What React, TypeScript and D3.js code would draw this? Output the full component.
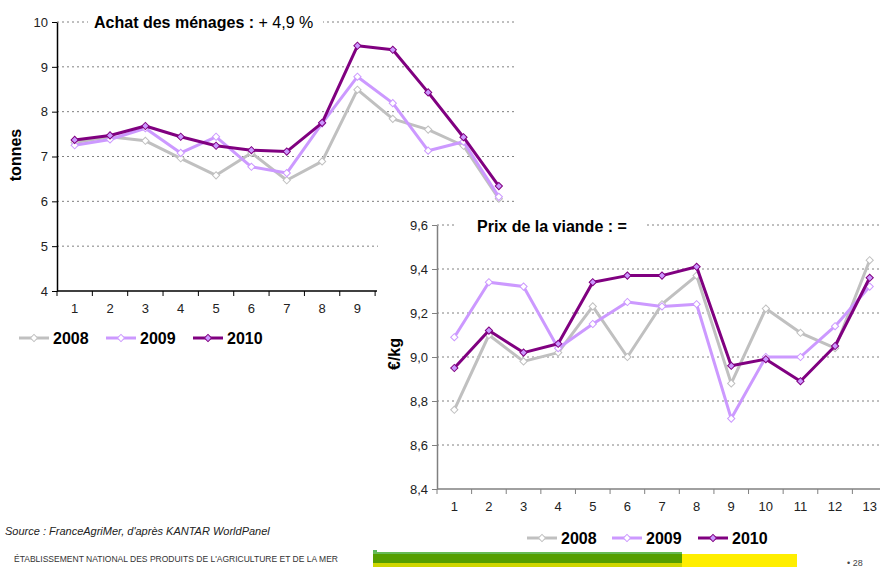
import React, { useEffect, useRef } from 'react';
import * as d3 from 'd3';

// periods (4-week periods of the year)
const periods = ['1', '2', '3', '4', '5', '6', '7', '8', '9', '10', '11', '12', '13'];
const years = ['2008', '2009', '2010'];

// Achat des ménages (tonnes)
const tonnes2008 = [7.31, 7.44, 7.35, 6.96, 6.58, 7.08, 6.47, 6.89, 8.49, 7.84, 7.6, 7.24, 6.06];
const tonnes2009 = [7.25, 7.38, 7.63, 7.08, 7.44, 6.77, 6.63, 7.74, 8.78, 8.19, 7.13, 7.33, 6.1];
const tonnes2010 = [7.37, 7.47, 7.68, 7.44, 7.24, 7.14, 7.11, 7.75, 9.47, 9.38, 8.43, 7.43, 6.34];

// Prix de la viande (€/kg)
const prix2008 = [8.76, 9.1, 8.98, 9.02, 9.23, 9.0, 9.24, 9.37, 8.88, 9.22, 9.11, 9.04, 9.44];
const prix2009 = [9.09, 9.34, 9.32, 9.04, 9.15, 9.25, 9.23, 9.24, 8.72, 9.0, 9.0, 9.14, 9.32];
const prix2010 = [8.95, 9.12, 9.02, 9.06, 9.34, 9.37, 9.37, 9.41, 8.96, 8.99, 8.89, 9.05, 9.36];

const tonnesTicks = [4, 5, 6, 7, 8, 9, 10];
const prixTicks = [8.4, 8.6, 8.8, 9.0, 9.2, 9.4, 9.6];

const lineColors = ['#c0c0c0', '#cc99ff', '#800080'];
const markerFills = ['#ffffff', '#ffffff', '#cc99ff'];

const FONT = 'Arial, "Liberation Sans", sans-serif';

// gridClip: where the dotted grid stops, axisClip: where the x axis stops (rest is hidden)
type Box = { x0: number; x1: number; y0: number; y1: number; gridClip: number; axisClip: number };

function drawChart(
  svg: d3.Selection<SVGSVGElement, unknown, null, undefined>,
  box: Box,
  domain: [number, number],
  ticks: number[],
  fmt: (v: number) => string,
  series: number[][],
  axisColor: string,
) {
  const g = svg.append('g');
  const x = d3.scaleBand<string>().domain(periods).range([box.x0, box.x1]).padding(0);
  const y = d3.scaleLinear().domain(domain).range([box.y1, box.y0]);

  // dotted grid
  g.selectAll('line.grid')
    .data(ticks.slice(1))
    .enter()
    .append('line')
    .attr('x1', box.x0)
    .attr('x2', box.gridClip)
    .attr('y1', (d) => y(d))
    .attr('y2', (d) => y(d))
    .attr('stroke', '#808080')
    .attr('stroke-width', 1)
    .attr('stroke-dasharray', '2,3');

  // y axis
  const yAxis = g.append('g')
    .attr('transform', `translate(${box.x0},0)`)
    .call(d3.axisLeft(y).tickValues(ticks).tickSize(5).tickSizeOuter(0).tickFormat((d) => fmt(+d)));
  yAxis.select('.domain').attr('stroke', axisColor).attr('stroke-width', 1.5);
  yAxis.selectAll('.tick line').attr('stroke', axisColor);
  yAxis.selectAll('.tick text')
    .attr('x', -9)
    .style('font-family', FONT)
    .style('font-size', '13px')
    .attr('fill', '#222');

  // x axis (only the visible part)
  const shown = periods.filter((p) => (x(p) as number) + x.bandwidth() / 2 <= box.axisClip);
  const xAxis = g.append('g')
    .attr('transform', `translate(0,${box.y1})`)
    .call(d3.axisBottom(x).tickValues(shown).tickSize(0).tickSizeOuter(0));
  xAxis.select('.domain').remove();
  xAxis.append('line')
    .attr('x1', box.x0)
    .attr('x2', Math.min(box.x1, box.axisClip))
    .attr('stroke', axisColor)
    .attr('stroke-width', 1.5);
  xAxis.selectAll('.tick text')
    .attr('y', 13)
    .attr('dy', '0.71em')
    .style('font-family', FONT)
    .style('font-size', '13px')
    .attr('fill', '#222');
  const bounds = d3.range(periods.length + 1).map((i) => box.x0 + i * x.step()).filter((v) => v <= box.axisClip);
  xAxis.selectAll('line.tk')
    .data(bounds)
    .enter()
    .append('line')
    .attr('x1', (d) => d)
    .attr('x2', (d) => d)
    .attr('y1', 0)
    .attr('y2', 5)
    .attr('stroke', axisColor);

  const line = d3.line<number>()
    .x((d, i) => (x(periods[i]) as number) + x.bandwidth() / 2)
    .y((d) => y(d));
  const diamond = d3.symbol(d3.symbolSquare, 26);

  series.forEach((vals, s) => {
    g.append('path')
      .datum(vals)
      .attr('d', line)
      .attr('fill', 'none')
      .attr('stroke', lineColors[s])
      .attr('stroke-width', 3)
      .attr('stroke-linejoin', 'round');
    g.selectAll(`path.m${s}`)
      .data(vals)
      .enter()
      .append('path')
      .attr('d', diamond)
      .attr('transform', (d, i) => `translate(${(x(periods[i]) as number) + x.bandwidth() / 2},${y(d)}) rotate(45)`)
      .attr('fill', markerFills[s])
      .attr('stroke', lineColors[s])
      .attr('stroke-width', 1);
  });
}

function drawLegend(
  svg: d3.Selection<SVGSVGElement, unknown, null, undefined>,
  starts: number[],
  yc: number,
) {
  const diamond = d3.symbol(d3.symbolSquare, 26);
  years.forEach((yr, i) => {
    const x0 = starts[i];
    svg.append('line')
      .attr('x1', x0).attr('x2', x0 + 30)
      .attr('y1', yc).attr('y2', yc)
      .attr('stroke', lineColors[i]).attr('stroke-width', 3);
    svg.append('path')
      .attr('d', diamond)
      .attr('transform', `translate(${x0 + 15},${yc}) rotate(45)`)
      .attr('fill', markerFills[i])
      .attr('stroke', lineColors[i]);
    svg.append('text')
      .attr('x', x0 + 34)
      .attr('y', yc + 6)
      .text(yr)
      .style('font-family', FONT)
      .style('font-size', '16px')
      .style('font-weight', 'bold')
      .attr('fill', '#000');
  });
}

const App: React.FC = () => {
  const ref = useRef<SVGSVGElement | null>(null);

  useEffect(() => {
    if (!ref.current) return;
    const svg = d3.select(ref.current);
    svg.selectAll('*').remove();

    // --- Achat des ménages ---
    drawChart(svg, { x0: 57, x1: 516.5, y0: 22, y1: 291, gridClip: 516.5, axisClip: 377 }, [4, 10], tonnesTicks,
      (v) => String(v), [tonnes2008, tonnes2009, tonnes2010], '#000');

    svg.append('rect').attr('x', 88).attr('y', 11).attr('width', 235).attr('height', 22).attr('fill', '#fff');
    const t1 = svg.append('text').attr('x', 94).attr('y', 28)
      .style('font-family', FONT).style('font-size', '16px').attr('fill', '#000');
    t1.append('tspan').style('font-weight', 'bold').text('Achat des ménages : ');
    t1.append('tspan').text('+ 4,9 %');

    svg.append('text')
      .attr('transform', 'translate(21,155) rotate(-90)')
      .attr('text-anchor', 'middle')
      .text('tonnes')
      .style('font-family', FONT).style('font-size', '16px').style('font-weight', 'bold');

    drawLegend(svg, [19, 106, 193], 338);

    // --- Prix de la viande (panel on top of the first chart) ---
    svg.append('rect').attr('x', 378).attr('y', 208).attr('width', 502).attr('height', 359).attr('fill', '#fff');

    drawChart(svg, { x0: 437, x1: 887, y0: 225, y1: 489, gridClip: 880, axisClip: 880 }, [8.4, 9.6], prixTicks,
      (v) => d3.format('.1f')(v).replace('.', ','), [prix2008, prix2009, prix2010], '#808080');

    svg.append('rect').attr('x', 457).attr('y', 215).attr('width', 188).attr('height', 22).attr('fill', '#fff');
    svg.append('text').attr('x', 477).attr('y', 232)
      .text('Prix de la viande : =')
      .style('font-family', FONT).style('font-size', '16px').style('font-weight', 'bold');

    svg.append('text')
      .attr('transform', 'translate(400,354) rotate(-90)')
      .attr('text-anchor', 'middle')
      .text('€/kg')
      .style('font-family', FONT).style('font-size', '16px').style('font-weight', 'bold');

    drawLegend(svg, [527, 612, 698], 538);

    // --- footer ---
    svg.append('text').attr('x', 5).attr('y', 535)
      .text("Source : FranceAgriMer, d'après KANTAR WorldPanel")
      .style('font-family', FONT).style('font-size', '11px').style('font-style', 'italic').attr('fill', '#222');
    svg.append('text').attr('x', 14).attr('y', 562)
      .attr('textLength', 324).attr('lengthAdjust', 'spacingAndGlyphs')
      .text("ÉTABLISSEMENT NATIONAL DES PRODUITS DE L'AGRICULTURE ET DE LA MER")
      .style('font-family', FONT).style('font-size', '9px').attr('fill', '#333');

    svg.append('rect').attr('x', 373).attr('y', 550).attr('width', 4).attr('height', 3).attr('fill', '#5cb85c');
    svg.append('rect').attr('x', 373).attr('y', 552).attr('width', 309).attr('height', 3).attr('fill', '#66bb55');
    svg.append('rect').attr('x', 373).attr('y', 554).attr('width', 309).attr('height', 9).attr('fill', '#559e00');
    svg.append('rect').attr('x', 373).attr('y', 563).attr('width', 309).attr('height', 4).attr('fill', '#cfd600');
    svg.append('rect').attr('x', 682).attr('y', 554).attr('width', 115).attr('height', 13).attr('fill', '#ffee00');

    svg.append('text').attr('x', 847).attr('y', 566)
      .text('• 28')
      .style('font-family', FONT).style('font-size', '9px').attr('fill', '#444');
  }, []);

  return (
    <svg
      ref={ref}
      width={880}
      height={567}
      style={{ position: 'absolute', left: 0, top: 0, background: '#fff' }}
    />
  );
};

export default App;
